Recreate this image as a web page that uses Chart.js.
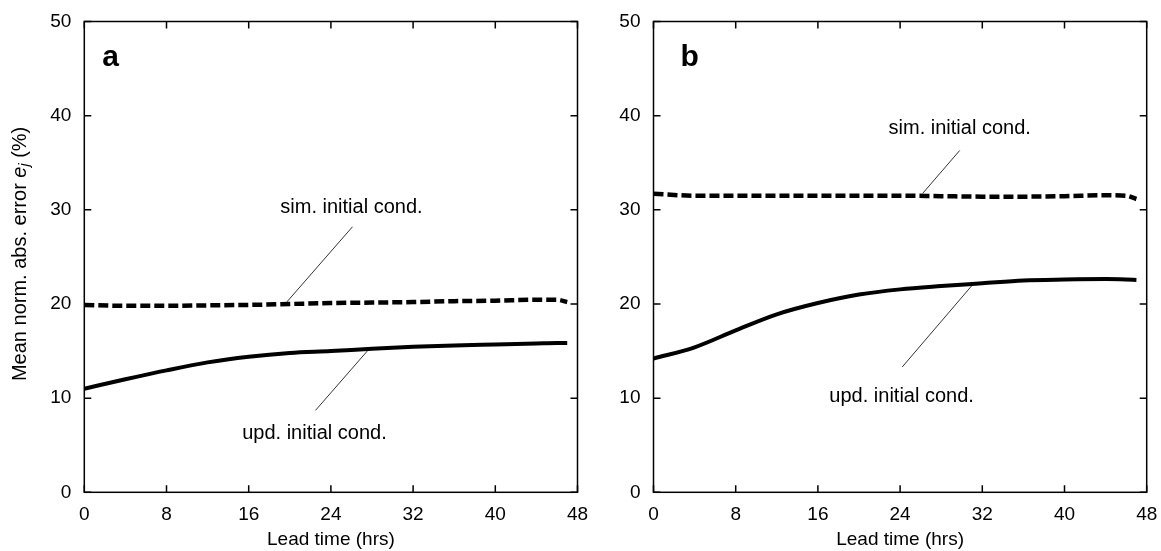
<!DOCTYPE html>
<html>
<head>
<meta charset="utf-8">
<script src="https://cdn.jsdelivr.net/npm/chart.js@4.4.0/dist/chart.umd.min.js"></script>
<style>
  body { margin: 0; background: #fff; overflow: hidden; }
  #boxA { position: absolute; left: 0; top: 0; width: 595px; height: 551px; }
  #boxB { position: absolute; left: 595px; top: 0; width: 566px; height: 551px; }
</style>
</head>
<body>
<div id="boxA"><canvas id="chartA" width="595" height="551"></canvas></div>
<div id="boxB"><canvas id="chartB" width="566" height="551"></canvas></div>
<script>
// valeurs (heures de prévision)
const leadTimes = [0, 4, 8, 12, 16, 20, 24, 28, 32, 36, 40, 44, 46, 47];
// panneau a
const updA = [11.0, 12.0, 12.95, 13.8, 14.4, 14.8, 15.0, 15.25, 15.45, 15.6, 15.7, 15.8, 15.85, 15.85];
const simA = [19.9, 19.8, 19.8, 19.85, 19.9, 20.0, 20.1, 20.15, 20.2, 20.3, 20.35, 20.45, 20.45, 20.2];
// panneau b
const updB = [14.2, 15.4, 17.2, 18.9, 20.1, 21.0, 21.55, 21.9, 22.2, 22.5, 22.6, 22.65, 22.6, 22.55];
const simB = [31.7, 31.5, 31.5, 31.5, 31.5, 31.5, 31.5, 31.45, 31.4, 31.4, 31.45, 31.55, 31.5, 31.15];
// graduations
const xTicks = [0, 8, 16, 24, 32, 40, 48];
const yTicks = [0, 10, 20, 30, 40, 50];

const FONT = "'Liberation Sans', Arial, Helvetica, sans-serif";

function toPoints(values) {
  return leadTimes.map((t, i) => ({ x: t, y: values[i] }));
}

// cadre + graduations vers l'intérieur + lettre du panneau + annotations
const framePlugin = {
  id: 'frame',
  afterDraw(chart, args, opts) {
    const ctx = chart.ctx;
    const a = chart.chartArea;
    const xs = chart.scales.x, ys = chart.scales.y;
    ctx.save();
    ctx.strokeStyle = '#000';
    ctx.lineWidth = 1.5;
    ctx.strokeRect(a.left, a.top, a.right - a.left, a.bottom - a.top);
    ctx.beginPath();
    xTicks.forEach(v => {
      const px = xs.getPixelForValue(v);
      ctx.moveTo(px, a.bottom); ctx.lineTo(px, a.bottom - 7);
      ctx.moveTo(px, a.top); ctx.lineTo(px, a.top + 7);
    });
    yTicks.forEach(v => {
      const py = ys.getPixelForValue(v);
      ctx.moveTo(a.left, py); ctx.lineTo(a.left + 7, py);
      ctx.moveTo(a.right, py); ctx.lineTo(a.right - 7, py);
    });
    ctx.stroke();

    // lettre du panneau
    ctx.fillStyle = '#000';
    ctx.font = 'bold 30px ' + FONT;
    ctx.textAlign = 'left';
    ctx.textBaseline = 'alphabetic';
    ctx.fillText(opts.letter, a.left + opts.letterDx, a.top + 44);

    // annotations avec trait de rappel
    ctx.font = '20px ' + FONT;
    ctx.textAlign = 'center';
    ctx.textBaseline = 'middle';
    ctx.lineWidth = 0.8;
    opts.notes.forEach(n => {
      ctx.fillText(n.text, xs.getPixelForValue(n.at[0]), ys.getPixelForValue(n.at[1]));
      ctx.beginPath();
      ctx.moveTo(xs.getPixelForValue(n.from[0]), ys.getPixelForValue(n.from[1]));
      ctx.lineTo(xs.getPixelForValue(n.to[0]), ys.getPixelForValue(n.to[1]));
      ctx.stroke();
    });

    // titre de l'axe y (avec e_j en italique)
    if (opts.yTitle) {
      const parts = [
        ['Mean norm. abs. error ', '20px ' + FONT, 0],
        ['e', 'italic 20px ' + FONT, 0],
        ['j', 'italic 14px ' + FONT, 5],
        [' (%)', '20px ' + FONT, 0]
      ];
      let total = 0;
      parts.forEach(p => { ctx.font = p[1]; total += ctx.measureText(p[0]).width; });
      ctx.translate(20, (a.top + a.bottom) / 2 - 3);
      ctx.rotate(-Math.PI / 2);
      ctx.textAlign = 'left';
      let x = -total / 2;
      parts.forEach(p => {
        ctx.font = p[1];
        ctx.fillText(p[0], x, p[2]);
        x += ctx.measureText(p[0]).width;
      });
    }
    ctx.restore();
  }
};

function makeChart(id, upd, sim, yWidth, padRight, frameOpts) {
  const ctx = document.getElementById(id).getContext('2d');
  return new Chart(ctx, {
    type: 'line',
    data: {
      datasets: [{
        label: 'upd. initial cond.',
        data: toPoints(upd),
        borderColor: '#000',
        borderWidth: 4,
        pointRadius: 0,
        cubicInterpolationMode: 'monotone'
      }, {
        label: 'sim. initial cond.',
        data: toPoints(sim),
        borderColor: '#000',
        borderWidth: 4.5,
        borderDash: [10, 4],
        pointRadius: 0,
        cubicInterpolationMode: 'monotone'
      }]
    },
    options: {
      responsive: false,
      animation: false,
      layout: { padding: { top: 21.5, right: padRight, left: 0, bottom: 0 } },
      scales: {
        x: {
          type: 'linear',
          min: 0, max: 48,
          afterBuildTicks: s => { s.ticks = xTicks.map(v => ({ value: v })); },
          afterFit: s => { s.height = 58.7; s.paddingLeft = 0; s.paddingRight = 0; },
          grid: { display: false, drawTicks: false },
          border: { display: false },
          ticks: { color: '#000', font: { family: FONT, size: 19 }, padding: 11, maxRotation: 0 },
          title: { display: true, text: 'Lead time (hrs)', color: '#000', font: { family: FONT, size: 19 }, padding: 0 }
        },
        y: {
          min: 0, max: 50,
          afterBuildTicks: s => { s.ticks = yTicks.map(v => ({ value: v })); },
          afterFit: s => { s.width = yWidth; s.paddingTop = 0; s.paddingBottom = 0; },
          grid: { display: false, drawTicks: false },
          border: { display: false },
          ticks: { color: '#000', font: { family: FONT, size: 19 }, padding: 13 }
        }
      },
      plugins: {
        legend: { display: false },
        tooltip: { enabled: false },
        frame: frameOpts
      }
    },
    plugins: [framePlugin]
  });
}

makeChart('chartA', updA, simA, 84.3, 17.5, {
  letter: 'a', letterDx: 18, yTitle: true,
  notes: [
    { text: 'sim. initial cond.', at: [26.0, 30.3], from: [26.1, 28.2], to: [19.7, 20.2] },
    { text: 'upd. initial cond.', at: [22.4, 6.2], from: [22.5, 8.7], to: [27.7, 15.2] }
  ]
});

makeChart('chartB', updB, simB, 58.5, 14.3, {
  letter: 'b', letterDx: 27, yTitle: false,
  notes: [
    { text: 'sim. initial cond.', at: [29.8, 38.6], from: [29.8, 36.3], to: [26.2, 31.75] },
    { text: 'upd. initial cond.', at: [24.15, 10.2], from: [24.2, 13.3], to: [31.1, 22.1] }
  ]
});
</script>
</body>
</html>
